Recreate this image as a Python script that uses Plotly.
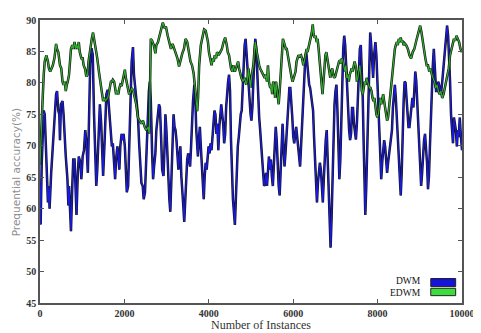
import plotly.graph_objects as go

# ---- data ----
dwm_instances = [
    0, 15, 40, 88, 112, 150, 188, 211, 227, 265, 304, 319, 342, 381, 404, 434, 458, 473, 496, 534,
    558, 588, 611, 650, 673, 688, 711, 734, 765, 788, 819, 842, 865, 896, 919, 957, 980, 1011, 1042, 1073,
    1100, 1134, 1160, 1190, 1220, 1250, 1280, 1334, 1357, 1396, 1419, 1450, 1473, 1496, 1526, 1550, 1573, 1603, 1626, 1650,
    1680, 1703, 1726, 1757, 1780, 1803, 1834, 1857, 1880, 1903, 1934, 1957, 1980, 2011, 2034, 2057, 2088, 2111, 2142, 2172,
    2203, 2226, 2257, 2288, 2319, 2349, 2380, 2403, 2434, 2457, 2488, 2503, 2526, 2549, 2580, 2603, 2626, 2657, 2680, 2703,
    2734, 2757, 2796, 2819, 2842, 2857, 2872, 2895, 2926, 2949, 2972, 2995, 3018, 3042, 3065, 3088, 3111, 3142, 3165, 3188,
    3211, 3234, 3257, 3280, 3303, 3326, 3349, 3372, 3395, 3418, 3442, 3465, 3488, 3511, 3534, 3557, 3580, 3603, 3626, 3657,
    3680, 3703, 3742, 3765, 3788, 3811, 3834, 3857, 3880, 3903, 3926, 3949, 3972, 3995, 4018, 4042, 4065, 4088, 4111, 4134,
    4157, 4180, 4203, 4226, 4249, 4272, 4295, 4318, 4341, 4364, 4388, 4411, 4434, 4457, 4480, 4503, 4526, 4549, 4572, 4595,
    4618, 4641, 4664, 4687, 4711, 4734, 4757, 4780, 4803, 4826, 4849, 4872, 4895, 4918, 4949, 4970, 4990, 5010, 5033, 5056,
    5079, 5102, 5125, 5148, 5171, 5194, 5217, 5240, 5263, 5286, 5310, 5333, 5356, 5379, 5402, 5425, 5448, 5471, 5494, 5517,
    5540, 5563, 5586, 5609, 5633, 5656, 5679, 5702, 5725, 5748, 5771, 5794, 5817, 5840, 5863, 5886, 5909, 5932, 5956, 5979,
    6002, 6025, 6048, 6071, 6094, 6117, 6140, 6163, 6186, 6217, 6240, 6263, 6286, 6309, 6333, 6356, 6379, 6402, 6425, 6448,
    6471, 6494, 6517, 6540, 6563, 6586, 6609, 6632, 6656, 6679, 6702, 6725, 6748, 6771, 6794, 6817, 6840, 6863, 6886, 6909,
    6932, 6955, 6979, 7002, 7025, 7048, 7071, 7094, 7117, 7140, 7163, 7186, 7209, 7232, 7255, 7278, 7302, 7325, 7348, 7371,
    7394, 7417, 7440, 7463, 7486, 7509, 7532, 7555, 7579, 7602, 7625, 7648, 7671, 7694, 7709, 7732, 7755, 7779, 7802, 7825,
    7848, 7871, 7894, 7917, 7948, 7971, 7994, 8017, 8040, 8063, 8086, 8109, 8132, 8155, 8178, 8201, 8225, 8248, 8271, 8294,
    8317, 8340, 8363, 8386, 8409, 8432, 8455, 8478, 8501, 8524, 8548, 8571, 8594, 8617, 8640, 8663, 8686, 8709, 8732, 8755,
    8778, 8801, 8825, 8848, 8871, 8894, 8917, 8940, 8963, 8986, 9009, 9032, 9055, 9078, 9101, 9124, 9148, 9171, 9194, 9217,
    9240, 9263, 9286, 9309, 9332, 9363, 9386, 9409, 9440, 9471, 9501, 9532, 9563, 9594, 9624, 9647, 9671, 9694, 9717, 9740,
    9763, 9786, 9809, 9832, 9855, 9878, 9901, 9924, 9947, 9970, 10000,
]
dwm_accuracy = [
    64.0, 57.5, 67.0, 75.6, 75.0, 69.2, 61.0, 63.6, 60.0, 65.7, 69.9, 72.5, 75.0, 78.2, 78.7, 75.6, 75.0, 70.9, 76.6, 77.1,
    75.0, 69.9, 68.3, 64.7, 60.5, 63.6, 59.5, 56.4, 63.6, 67.8, 67.8, 62.1, 59.0, 65.7, 68.3, 67.3, 64.7, 68.3, 69.3, 72.5,
    70.5, 65.7, 75.0, 83.0, 85.5, 84.5, 75.0, 63.6, 66.2, 71.9, 76.6, 73.5, 68.8, 65.2, 69.9, 75.0, 78.2, 78.9, 76.6, 73.5,
    71.4, 69.9, 70.4, 67.8, 64.7, 67.8, 69.9, 68.3, 66.2, 69.9, 71.9, 70.9, 71.9, 69.9, 65.7, 62.6, 63.6, 69.9, 77.6, 83.4,
    85.7, 81.3, 79.2, 76.6, 75.0, 70.4, 67.3, 64.1, 63.6, 61.5, 62.6, 65.7, 68.8, 73.5, 78.7, 80.2, 77.1, 68.8, 64.7, 66.7,
    68.8, 72.5, 75.0, 76.6, 76.1, 74.0, 70.9, 66.2, 65.2, 69.3, 75.0, 72.5, 67.8, 64.7, 61.5, 59.5, 64.7, 70.9, 75.0, 73.0,
    72.5, 70.9, 68.8, 66.2, 68.3, 69.9, 65.2, 61.5, 60.5, 57.9, 61.5, 65.7, 67.8, 68.8, 67.8, 66.7, 69.9, 74.0, 77.1, 79.7,
    77.6, 72.5, 68.3, 70.9, 73.0, 69.9, 66.2, 63.6, 61.5, 65.2, 67.3, 66.2, 68.3, 69.9, 68.8, 70.4, 69.3, 71.4, 73.5, 75.6,
    75.0, 71.9, 73.5, 69.3, 73.0, 75.6, 76.6, 75.0, 73.5, 70.4, 71.9, 76.1, 78.7, 80.2, 81.3, 78.7, 70.9, 64.7, 61.5, 59.5,
    57.4, 61.5, 67.3, 69.9, 71.4, 73.5, 75.0, 75.6, 79.7, 83.4, 86.0, 87.0, 84.4, 81.8, 78.7, 76.5, 75.0, 74.0, 76.1, 80.2,
    84.4, 87.0, 85.4, 81.3, 77.1, 74.5, 72.5, 69.9, 67.3, 65.7, 63.6, 64.1, 65.7, 63.6, 67.3, 68.3, 66.2, 67.8, 65.2, 63.6,
    66.7, 69.9, 73.0, 70.9, 66.2, 63.6, 62.1, 66.2, 70.4, 73.5, 69.9, 66.7, 68.8, 71.4, 75.0, 77.1, 79.2, 79.2, 77.1, 74.5,
    71.4, 70.4, 71.9, 73.0, 71.4, 69.9, 67.8, 66.7, 69.9, 74.5, 78.7, 81.8, 83.9, 84.9, 82.8, 80.8, 79.7, 79.2, 77.6, 76.6,
    75.6, 71.4, 67.8, 63.6, 61.0, 64.1, 66.2, 67.3, 66.2, 64.1, 61.0, 64.7, 68.3, 70.9, 72.5, 68.3, 63.6, 59.0, 53.8, 58.4,
    64.7, 70.9, 76.6, 78.7, 79.7, 75.6, 68.8, 64.7, 67.8, 74.5, 81.3, 85.4, 87.5, 86.0, 82.8, 79.2, 75.0, 72.5, 70.9, 71.9,
    76.0, 76.0, 73.5, 72.0, 71.0, 73.5, 77.6, 81.8, 85.4, 86.0, 82.8, 77.6, 69.9, 63.6, 59.0, 63.6, 70.9, 78.7, 84.9, 88.0,
    86.0, 82.8, 80.8, 84.4, 86.5, 84.4, 80.2, 75.6, 71.4, 67.8, 64.7, 67.3, 68.8, 70.9, 69.9, 67.8, 65.7, 67.3, 68.8, 70.4,
    70.9, 72.5, 76.1, 78.7, 79.7, 77.6, 74.5, 70.9, 67.3, 64.1, 62.1, 65.7, 72.5, 77.1, 80.2, 80.0, 77.5, 74.5, 73.0, 73.0,
    75.0, 76.6, 77.6, 76.1, 78.7, 81.8, 80.2, 76.6, 72.5, 68.8, 65.2, 63.6, 65.7, 69.3, 70.9, 71.9, 69.9, 67.3, 63.1, 65.2,
    69.9, 75.0, 79.2, 82.8, 85.4, 81.8, 78.7, 78.7, 80.2, 79.2, 78.2, 80.2, 82.8, 86.0, 88.0, 89.1, 87.5, 84.4, 80.2, 75.0,
    71.4, 70.4, 74.5, 73.5, 72.5, 69.9, 72.5, 71.4, 74.5, 71.9, 69.3,
]

edwm_instances = [
    0, 30, 60, 90, 112, 150, 188, 211, 242, 273, 304, 342, 381, 404, 434, 473, 504, 534, 558, 588,
    611, 634, 657, 688, 711, 734, 765, 788, 819, 842, 865, 896, 919, 942, 980, 1011, 1034, 1073, 1096, 1127,
    1150, 1188, 1226, 1257, 1280, 1296, 1319, 1357, 1396, 1434, 1473, 1496, 1526, 1550, 1573, 1603, 1626, 1650, 1680, 1703,
    1726, 1757, 1780, 1803, 1826, 1857, 1880, 1903, 1934, 1957, 1988, 2011, 2034, 2065, 2088, 2111, 2142, 2175, 2210, 2250,
    2280, 2320, 2360, 2400, 2440, 2480, 2520, 2560, 2590, 2605, 2625, 2657, 2696, 2734, 2757, 2796, 2834, 2872, 2911, 2949,
    2988, 3026, 3065, 3103, 3142, 3180, 3219, 3257, 3295, 3334, 3372, 3411, 3449, 3488, 3526, 3565, 3603, 3641, 3670, 3700,
    3725, 3745, 3772, 3811, 3849, 3888, 3926, 3949, 3980, 4003, 4042, 4065, 4095, 4118, 4141, 4172, 4195, 4234, 4272, 4311,
    4349, 4388, 4426, 4449, 4480, 4503, 4526, 4557, 4580, 4618, 4641, 4672, 4695, 4718, 4749, 4772, 4811, 4849, 4888, 4920,
    4940, 4964, 4987, 5010, 5033, 5056, 5079, 5102, 5125, 5148, 5171, 5194, 5217, 5248, 5286, 5325, 5348, 5379, 5402, 5425,
    5456, 5479, 5502, 5525, 5548, 5571, 5594, 5633, 5656, 5679, 5710, 5733, 5756, 5779, 5802, 5825, 5848, 5871, 5894, 5917,
    5940, 5963, 5986, 6009, 6033, 6056, 6079, 6102, 6125, 6148, 6186, 6210, 6240, 6263, 6286, 6317, 6340, 6379, 6417, 6440,
    6463, 6486, 6509, 6532, 6556, 6579, 6602, 6625, 6648, 6671, 6694, 6717, 6740, 6763, 6786, 6809, 6832, 6855, 6879, 6902,
    6925, 6948, 6971, 6994, 7017, 7040, 7063, 7086, 7109, 7132, 7155, 7179, 7202, 7225, 7248, 7271, 7294, 7317, 7340, 7363,
    7386, 7409, 7432, 7455, 7486, 7509, 7532, 7555, 7579, 7602, 7625, 7648, 7671, 7694, 7717, 7740, 7763, 7786, 7809, 7832,
    7855, 7879, 7902, 7925, 7948, 7971, 7994, 8017, 8040, 8063, 8086, 8109, 8132, 8155, 8178, 8201, 8225, 8248, 8271, 8294,
    8317, 8340, 8363, 8386, 8409, 8432, 8455, 8478, 8501, 8524, 8548, 8571, 8594, 8617, 8640, 8678, 8717, 8755, 8794, 8832,
    8871, 8909, 8948, 8986, 9009, 9040, 9071, 9101, 9132, 9163, 9194, 9224, 9255, 9286, 9317, 9348, 9378, 9409, 9440, 9471,
    9501, 9532, 9563, 9594, 9624, 9655, 9686, 9717, 9748, 9778, 9809, 9840, 9870, 9901, 9932, 9963, 10000,
]
edwm_accuracy = [
    67.0, 71.0, 77.0, 81.5, 83.4, 84.4, 83.4, 82.3, 81.8, 82.3, 82.8, 83.9, 86.2, 85.4, 84.9, 82.8, 82.3, 80.2, 79.7, 80.2,
    78.7, 79.7, 80.2, 81.3, 83.4, 85.4, 86.0, 85.4, 86.5, 85.4, 86.0, 85.4, 86.5, 84.9, 83.9, 83.9, 82.8, 82.1, 81.0, 81.3,
    83.4, 85.4, 87.0, 88.0, 87.0, 87.0, 86.0, 83.9, 81.8, 79.7, 78.2, 77.1, 77.6, 77.1, 77.4, 77.6, 78.2, 79.5, 80.2, 80.2,
    80.5, 80.2, 79.2, 78.2, 78.7, 78.2, 79.2, 79.7, 79.5, 80.2, 81.3, 82.1, 80.8, 79.7, 78.7, 78.2, 78.5, 79.2, 78.7, 77.6,
    76.6, 74.5, 74.0, 73.5, 74.0, 73.0, 72.5, 73.0, 71.9, 79.0, 87.0, 86.7, 86.0, 84.7, 86.0, 86.5, 87.5, 88.3, 89.6, 88.8,
    88.8, 87.5, 86.5, 85.4, 86.2, 85.4, 84.9, 83.9, 82.6, 83.9, 84.7, 85.4, 87.0, 86.5, 84.9, 83.4, 82.8, 81.5, 79.5, 76.5,
    75.5, 77.6, 82.8, 86.0, 87.5, 88.5, 88.3, 87.5, 86.5, 84.9, 83.4, 82.8, 83.9, 83.4, 84.4, 83.9, 84.9, 84.4, 84.9, 85.4,
    86.5, 87.2, 86.0, 84.9, 84.4, 82.8, 82.3, 81.8, 82.8, 81.8, 82.3, 82.8, 83.4, 82.3, 81.3, 80.8, 80.2, 80.8, 79.7, 80.8,
    82.3, 80.2, 79.2, 80.8, 81.8, 82.8, 84.9, 86.5, 85.4, 84.4, 83.4, 82.8, 82.3, 81.8, 81.3, 80.8, 81.3, 80.2, 82.8, 80.2,
    79.2, 79.7, 78.2, 80.2, 79.7, 77.6, 80.2, 77.1, 76.6, 78.7, 81.8, 84.9, 87.0, 86.5, 86.0, 85.4, 85.4, 84.4, 83.4, 82.3,
    81.8, 80.8, 80.2, 80.8, 81.3, 81.8, 83.4, 83.9, 84.4, 84.2, 84.4, 83.9, 82.8, 83.4, 84.4, 85.4, 84.9, 86.0, 87.0, 88.0,
    89.3, 87.5, 87.2, 87.5, 86.5, 87.0, 85.4, 83.4, 81.8, 80.2, 78.2, 80.2, 82.8, 84.4, 84.9, 83.9, 82.8, 81.3, 80.8, 81.8,
    82.3, 81.3, 80.8, 81.0, 81.8, 82.3, 82.8, 83.4, 83.6, 83.1, 83.9, 83.4, 82.3, 81.8, 82.8, 80.8, 81.3, 80.2, 81.3, 81.8,
    82.3, 81.8, 82.8, 83.4, 82.5, 80.2, 80.8, 81.8, 82.8, 81.3, 78.7, 78.2, 79.7, 80.2, 79.7, 80.8, 80.2, 79.7, 79.2, 79.2,
    78.7, 77.6, 77.1, 77.6, 76.1, 75.0, 74.5, 75.0, 76.1, 77.6, 76.6, 77.6, 78.2, 77.1, 76.1, 75.0, 74.0, 74.5, 76.1, 77.6,
    79.7, 81.8, 83.4, 84.4, 85.4, 86.0, 86.5, 86.0, 87.0, 86.5, 87.2, 86.5, 86.7, 86.0, 86.3, 86.0, 85.4, 84.4, 83.9, 84.9,
    85.4, 86.5, 87.5, 88.5, 89.1, 88.0, 86.5, 84.9, 83.9, 82.8, 82.8, 81.8, 82.3, 81.3, 80.8, 80.2, 79.2, 79.7, 78.7, 78.2,
    78.7, 77.6, 78.2, 79.2, 80.2, 81.3, 82.3, 84.4, 85.4, 86.5, 87.0, 86.7, 87.5, 87.0, 86.5, 85.4, 84.9,
]

series_names = ["DWM", "EDWM"]
series_colors = ["#1a1ae6", "#2faa2f"]
legend_fill = ["#1414d8", "#3ddc3d"]
x_ticks = [0, 2000, 4000, 6000, 8000, 10000]
y_ticks = [45, 50, 55, 60, 65, 70, 75, 80, 85, 90]

fig = go.Figure()
for name, xs, ys, col in [
    (series_names[0], dwm_instances, dwm_accuracy, series_colors[0]),
    (series_names[1], edwm_instances, edwm_accuracy, series_colors[1]),
]:
    fig.add_trace(go.Scatter(x=xs, y=ys, mode="lines", line=dict(color="#141414", width=2.5),
                             hoverinfo="skip", showlegend=False))
    fig.add_trace(go.Scatter(x=xs, y=ys, mode="lines", line=dict(color=col, width=1.2),
                             name=name, showlegend=False))

tick_font = dict(family="Liberation Serif", size=10, color="#333333", weight="bold")
axis_common = dict(showgrid=False, zeroline=False, showline=True, linecolor="#555555", linewidth=1.5,
                   mirror="ticks", ticks="inside", ticklen=4, tickwidth=1, tickcolor="#555555",
                   tickfont=tick_font, ticklabeloverflow="allow")
fig.update_xaxes(range=[0, 10000], tickvals=x_ticks, ticktext=[str(v) for v in x_ticks], **axis_common)
fig.update_yaxes(range=[45, 90], tickvals=y_ticks, ticktext=[str(v) for v in y_ticks], **axis_common)

# legend (text on the left, coloured box on the right, as in the reference)
legend_rows = [(0.0865, 0.058, 0.058, "bottom"), (0.052, 0.026, 0.056, "top")]
for (y1, y0, yt, anchor), name, fill in zip(legend_rows, series_names, legend_fill):
    fig.add_shape(type="rect", xref="paper", yref="paper", x0=0.926, x1=0.985, y0=y0, y1=y1,
                  fillcolor=fill, line=dict(color="#222222", width=1))
    fig.add_annotation(xref="paper", yref="paper", x=0.905, y=yt, text=name, showarrow=False,
                       xanchor="right", yanchor=anchor, borderpad=0,
                       font=dict(family="Liberation Serif", size=9.5, color="#111111"))

fig.add_annotation(xref="paper", yref="paper", x=0.524, y=-0.076, text="Number of Instances",
                   showarrow=False, xanchor="center", yanchor="middle",
                   font=dict(family="Liberation Serif", size=12, color="#333333"))
fig.add_annotation(xref="paper", yref="paper", x=-0.058, y=0.46, text="Prequential accuracy(%)",
                   showarrow=False, textangle=-90, xanchor="center", yanchor="middle",
                   font=dict(family="DejaVu Sans", size=10.5, color="#8f8f8f"))

# the page body adds an 8px margin, so the figure is sized to the remaining window area
fig.update_layout(width=473, height=325, margin=dict(l=32, r=8, t=6, b=30),
                  paper_bgcolor="white", plot_bgcolor="white", showlegend=False)
fig.write_html("out.html")
